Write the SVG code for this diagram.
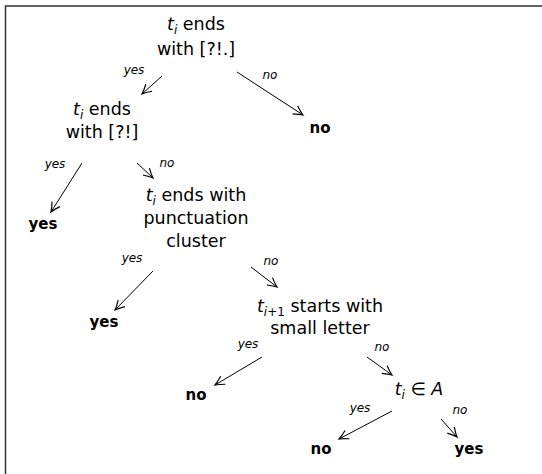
<svg xmlns="http://www.w3.org/2000/svg" width="542" height="474" viewBox="0 0 542 474">
<style>
.n{font-family:"DejaVu Sans",sans-serif;font-size:17.5px;fill:#000;text-anchor:middle}
.b{font-family:"DejaVu Sans",sans-serif;font-size:15px;font-weight:bold;fill:#000;text-anchor:middle}
.l{font-family:"DejaVu Sans",sans-serif;font-size:12px;font-style:italic;fill:#000;text-anchor:middle}
.m{font-style:italic}
.s{font-size:12px}
.e{fill:none;stroke:#000;stroke-width:1;marker-end:url(#ah)}
</style>
<defs>
<marker id="ah" markerUnits="userSpaceOnUse" markerWidth="14" markerHeight="14" viewBox="-10 -6 12 12" refX="0" refY="0" orient="auto">
<path d="M-8 -4 Q-3 -1 0 0 Q-3 1 -8 4" fill="none" stroke="#000" stroke-width="1"/>
</marker>
</defs>
<path d="M5.5 474 V6 H542" fill="none" stroke="#333" stroke-width="1.5"/>
<g id="n1"><text class="n" x="196" y="30"><tspan class="m">t</tspan><tspan class="m s" dy="4">i</tspan><tspan dy="-4"> ends</tspan></text><text class="n" x="196" y="55">with [?!.]</text></g>
<g id="n2"><text class="n" x="102" y="115"><tspan class="m">t</tspan><tspan class="m s" dy="4">i</tspan><tspan dy="-4"> ends</tspan></text><text class="n" x="102" y="138">with [?!]</text></g>
<g id="n3"><text class="b" x="320" y="133">no</text></g>
<g id="n4"><text class="b" x="43" y="229">yes</text></g>
<g id="n5"><text class="n" x="196" y="201"><tspan class="m">t</tspan><tspan class="m s" dy="4">i</tspan><tspan dy="-4"> ends with</tspan></text><text class="n" x="196" y="224">punctuation</text><text class="n" x="196" y="247">cluster</text></g>
<g id="n6"><text class="b" x="104" y="327">yes</text></g>
<g id="n7"><text class="n" x="320" y="312"><tspan class="m">t</tspan><tspan class="s" dy="4"><tspan class="m">i</tspan>+1</tspan><tspan dy="-4"> starts with</tspan></text><text class="n" x="320" y="334">small letter</text></g>
<g id="n8"><text class="b" x="196" y="400">no</text></g>
<g id="n9"><text class="n" x="419" y="395"><tspan class="m">t</tspan><tspan class="m s" dy="4">i</tspan><tspan dy="-4"> ∈ </tspan><tspan class="m">A</tspan></text></g>
<g id="n10"><text class="b" x="321" y="454">no</text></g>
<g id="n11"><text class="b" x="469" y="454">yes</text></g>
<g id="edges">
<path class="e" d="M162 76 L142 94"/><text class="l" x="134" y="74">yes</text>
<path class="e" d="M237 72 L303 115"/><text class="l" x="270" y="79">no</text>
<path class="e" d="M82 163 L51 212"/><text class="l" x="55" y="168">yes</text>
<path class="e" d="M137 163 L153 178"/><text class="l" x="167" y="167">no</text>
<path class="e" d="M153 271 L115 310"/><text class="l" x="132" y="262">yes</text>
<path class="e" d="M251 267 L277 287"/><text class="l" x="271" y="265">no</text>
<path class="e" d="M262 357 L215 385"/><text class="l" x="248" y="348">yes</text>
<path class="e" d="M367 357 L392 375"/><text class="l" x="382" y="351">no</text>
<path class="e" d="M392 411 L339 439"/><text class="l" x="360" y="412">yes</text>
<path class="e" d="M441 419 L457 437"/><text class="l" x="460" y="414">no</text>
</g>
</svg>
